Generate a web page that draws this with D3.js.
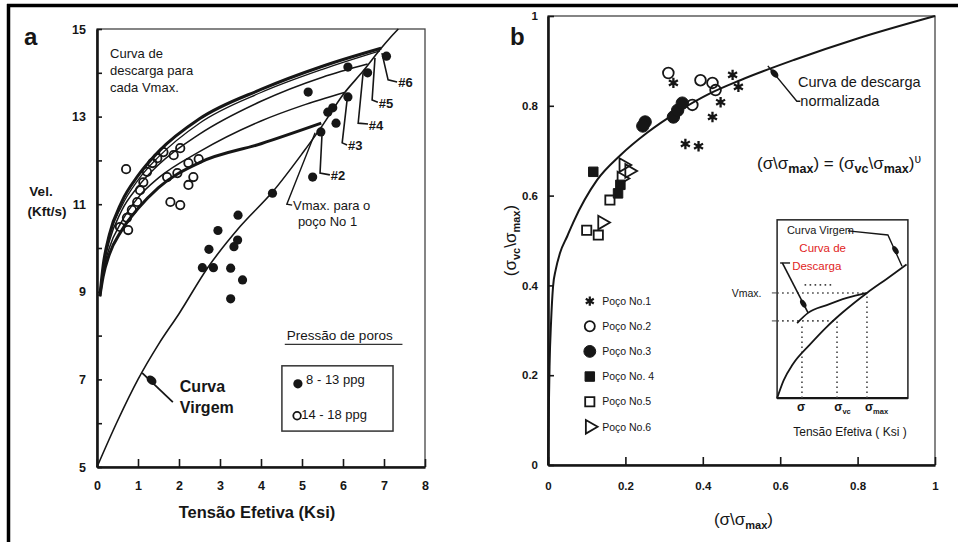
<!DOCTYPE html>
<html><head><meta charset="utf-8">
<script src="https://cdn.jsdelivr.net/npm/d3@7"></script>
<style>
body{margin:0;background:#fff}
svg{display:block}
text{font-family:"Liberation Sans",Arial,sans-serif;fill:#161616}
</style>
</head><body>
<svg id="c" width="958" height="542"></svg>
<script>
// ---------- Panel a data ----------
const aXTicks = [0,1,2,3,4,5,6,7,8];
const aYTicks = [5,6,7,8,9,10,11,12,13,14,15];
const aVirgin = [[0,5],[0.5,6.05],[1.0,7.0],[1.5,7.8],[2.0,8.5],[2.7,9.55],[3.5,10.5],[4.3,11.3],[5.0,12.15],[5.5,12.8],[6.0,13.5],[6.5,14.05],[6.93,14.56],[7.15,14.8],[7.35,15.0]];
const aCurve1 = [[0.07,8.9],[0.15,9.35],[0.3,9.85],[0.6,10.4],[1.0,10.9],[1.5,11.38],[2.5,11.95],[4.0,12.38],[5.47,12.85]];
const aCurve3 = [[0.07,8.9],[0.15,9.45],[0.3,10.0],[0.6,10.6],[1.0,11.15],[1.5,11.6],[2.5,12.2],[4.0,12.9],[5.0,13.25],[6.03,13.55]];
const aCurve4 = [[0.07,8.9],[0.15,9.5],[0.3,10.15],[0.6,10.85],[1.0,11.4],[1.5,11.9],[2.5,12.6],[4.0,13.35],[5.5,13.9],[6.6,14.2]];
const aCurve5 = [[0.07,8.9],[0.15,9.55],[0.3,10.25],[0.6,10.95],[1.0,11.55],[1.5,12.08],[2.5,12.85],[4.0,13.55],[5.5,14.08],[6.9,14.5]];
const aCurve6 = [[0.07,8.9],[0.15,9.6],[0.3,10.3],[0.6,11.05],[1.0,11.65],[1.5,12.2],[2.5,12.95],[4.0,13.62],[5.5,14.15],[6.93,14.56]];
const aFilled = [[5.15,13.56],[6.12,14.13],[6.6,14.0],[7.06,14.38],[5.75,13.2],[5.63,13.1],[5.83,12.85],[5.46,12.65],[6.12,13.45],[5.26,11.62],[4.28,11.25],[3.44,10.75],[2.95,10.4],[3.43,10.18],[3.34,10.03],[2.73,9.97],[2.57,9.55],[2.84,9.55],[3.26,9.54],[3.55,9.27],[3.26,8.84]];
const aOpen = [[0.71,11.8],[2.03,12.28],[1.87,12.12],[1.62,12.19],[1.47,12.05],[1.35,11.94],[1.22,11.74],[1.13,11.5],[1.05,11.32],[0.98,11.05],[0.85,10.87],[0.73,10.69],[0.56,10.48],[0.76,10.41],[1.71,11.62],[1.96,11.71],[2.23,11.44],[2.35,11.62],[2.23,11.94],[2.48,12.03],[1.79,11.05],[2.03,10.98]];

// ---------- Panel b data ----------
const bXTicks = [0,0.2,0.4,0.6,0.8,1];
const bYTicks = [0,0.2,0.4,0.6,0.8,1];
const bCurve = [[0,0],[0.002,0.12],[0.004,0.22],[0.008,0.32],[0.013,0.397],[0.02,0.435],[0.031,0.472],[0.05,0.51],[0.065,0.54],[0.127,0.635],[0.187,0.69],[0.256,0.74],[0.334,0.786],[0.42,0.828],[0.497,0.857],[0.635,0.902],[0.8,0.95],[1,1]];
const bPoco1 = [[0.324,0.851],[0.477,0.869],[0.492,0.842],[0.446,0.808],[0.425,0.775],[0.355,0.715],[0.389,0.71]];
const bPoco2 = [[0.311,0.873],[0.394,0.857],[0.425,0.851],[0.433,0.835],[0.373,0.802]];
const bPoco3 = [[0.251,0.764],[0.245,0.755],[0.324,0.775],[0.335,0.79],[0.347,0.806]];
const bPoco4 = [[0.117,0.653],[0.187,0.624],[0.181,0.605]];
const bPoco5 = [[0.1,0.523],[0.13,0.512],[0.16,0.59]];
const bPoco6 = [[0.14,0.54],[0.195,0.668],[0.21,0.655],[0.19,0.638]];
const bLegend = ["Poço No.1","Poço No.2","Poço No.3","Poço No. 4","Poço No.5","Poço No.6"];
// inset schematic (normalized units)
const iVirgin = [[0,0],[0.05,0.1],[0.12,0.19],[0.25,0.3],[0.38,0.4],[0.5,0.48],[0.687,0.59],[0.84,0.67],[0.99,0.75]];
const iDischarge = [[0.153,0.421],[0.237,0.478],[0.38,0.522],[0.534,0.562],[0.687,0.59]];

const ink = '#161616';
const svg = d3.select('#c');
svg.append('rect').attr('width',958).attr('height',542).attr('fill','#fff');
// outer border (top + left)
svg.append('line').attr('x1',7).attr('x2',958).attr('y1',5.5).attr('y2',5.5).attr('stroke','#000').attr('stroke-width',3.5);
svg.append('line').attr('x1',8.5).attr('x2',8.5).attr('y1',4).attr('y2',542).attr('stroke','#000').attr('stroke-width',3.5);

// ================= PANEL A =================
const xA = d3.scaleLinear().domain([0,8]).range([97,425]);
const yA = d3.scaleLinear().domain([5,15]).range([467,29]);
const A = svg.append('g');
A.append('rect').attr('x',xA(0)).attr('y',yA(15)).attr('width',xA(8)-xA(0)).attr('height',yA(5)-yA(15))
  .attr('fill','none').attr('stroke','#444').attr('stroke-width',1.3);
const gxA = A.append('g').attr('transform',`translate(0,${yA(5)})`)
  .call(d3.axisBottom(xA).tickValues(aXTicks).tickSizeInner(-8).tickSizeOuter(0).tickPadding(14).tickFormat(d3.format('d')));
const gyA = A.append('g').attr('transform',`translate(${xA(0)},0)`)
  .call(d3.axisLeft(yA).tickValues(aYTicks).tickSizeInner(-5).tickSizeOuter(0).tickPadding(11).tickFormat(d => d%2===1 ? d : ''));
[gxA,gyA].forEach(g=>{
  g.select('.domain').attr('stroke',ink).attr('stroke-width',2.6);
  g.selectAll('.tick line').attr('stroke',ink).attr('stroke-width',1.6);
  g.selectAll('.tick text').attr('font-size',12.5).attr('font-weight','bold').attr('fill',ink);
});
const lineA = d3.line().x(d=>xA(d[0])).y(d=>yA(d[1])).curve(d3.curveMonotoneX);
A.append('path').attr('d',lineA(aVirgin)).attr('fill','none').attr('stroke',ink).attr('stroke-width',1.6);
[[aCurve1,3],[aCurve3,1.5],[aCurve4,1.5],[aCurve5,1.3],[aCurve6,3]].forEach(([c,w])=>{
  A.append('path').attr('d',lineA(c)).attr('fill','none').attr('stroke',ink).attr('stroke-width',w);
});
A.selectAll('.op').data(aOpen).join('circle').attr('cx',d=>xA(d[0])).attr('cy',d=>yA(d[1])).attr('r',4.2)
  .attr('fill','none').attr('stroke',ink).attr('stroke-width',1.8);
A.selectAll('.fp').data(aFilled).join('circle').attr('cx',d=>xA(d[0])).attr('cy',d=>yA(d[1])).attr('r',4.6).attr('fill',ink);

// leaders for #labels (data coordinates)
const leadA = d3.line().x(d=>xA(d[0])).y(d=>yA(d[1]));
const tags = [
  {t:'#6', p:[[6.95,14.45],[7.10,13.84],[7.32,13.79]], at:[7.35,13.79]},
  {t:'#5', p:[[6.78,14.34],[6.71,13.38],[6.85,13.33]], at:[6.87,13.3]},
  {t:'#4', p:[[6.49,14.0],[6.37,12.85],[6.61,12.83]], at:[6.63,12.8]},
  {t:'#3', p:[[6.10,13.38],[5.98,12.4],[6.10,12.35]], at:[6.12,12.33]},
  {t:'#2', p:[[5.49,12.63],[5.44,11.71],[5.68,11.67]], at:[5.7,11.65]}
];
tags.forEach(o=>{
  A.append('path').attr('d',leadA(o.p)).attr('fill','none').attr('stroke',ink).attr('stroke-width',1.6);
  A.append('text').attr('x',xA(o.at[0])).attr('y',yA(o.at[1])).attr('dy','0.35em')
    .attr('font-size',13).attr('font-weight','bold').text(o.t);
});
A.append('path').attr('d',leadA([[5.32,12.63],[4.63,11.0],[4.76,10.98]])).attr('fill','none').attr('stroke',ink).attr('stroke-width',1.4);
A.append('text').attr('x',xA(4.78)).attr('y',yA(10.98)).attr('dy','0.35em').attr('font-size',13).text('Vmax. para o');
A.append('text').attr('x',xA(4.9)).attr('y',yA(10.6)).attr('dy','0.35em').attr('font-size',13).text('poço No 1');

['Curva de','descarga para','cada Vmax.'].forEach((s,i)=>{
  A.append('text').attr('x',xA(0.32)).attr('y',yA(14.45-0.39*i)).attr('dy','0.35em').attr('font-size',13).text(s);
});
// Curva Virgem label
A.append('path').attr('d',leadA([[1.85,6.48],[1.10,7.15]])).attr('stroke',ink).attr('stroke-width',1.8).attr('fill','none');
A.append('ellipse').attr('cx',xA(1.33)).attr('cy',yA(6.98)).attr('rx',5.5).attr('ry',4)
  .attr('transform',`rotate(40,${xA(1.33)},${yA(6.98)})`).attr('fill',ink);
A.append('text').attr('x',xA(2.02)).attr('y',yA(6.83)).attr('dy','0.35em').attr('font-size',16).attr('font-weight','bold').text('Curva');
A.append('text').attr('x',xA(2.02)).attr('y',yA(6.37)).attr('dy','0.35em').attr('font-size',16).attr('font-weight','bold').text('Virgem');
// legend
A.append('text').attr('x',xA(4.63)).attr('y',yA(8.01)).attr('dy','0.35em').attr('font-size',13.5).attr('fill','#333').text('Pressão de poros');
A.append('line').attr('x1',xA(4.58)).attr('x2',xA(7.45)).attr('y1',yA(7.8)).attr('y2',yA(7.8)).attr('stroke','#333').attr('stroke-width',1.3);
A.append('rect').attr('x',xA(4.51)).attr('y',yA(7.31)).attr('width',xA(7.22)-xA(4.51)).attr('height',yA(5.82)-yA(7.31))
  .attr('fill','none').attr('stroke','#333').attr('stroke-width',1.5);
A.append('circle').attr('cx',xA(4.9)).attr('cy',yA(6.9)).attr('r',4.6).attr('fill',ink);
A.append('text').attr('x',xA(5.1)).attr('y',yA(7.0)).attr('dy','0.35em').attr('font-size',13).text('8 - 13 ppg');
A.append('circle').attr('cx',xA(4.88)).attr('cy',yA(6.17)).attr('r',3.8).attr('fill','none').attr('stroke',ink).attr('stroke-width',1.8);
A.append('text').attr('x',xA(4.98)).attr('y',yA(6.21)).attr('dy','0.35em').attr('font-size',13).text('14 - 18 ppg');
// axis titles
A.append('text').attr('x',(xA(0)+xA(8))/2 - 4).attr('y',yA(5)+51).attr('text-anchor','middle')
  .attr('font-size',16.5).attr('font-weight','bold').text('Tensão Efetiva (Ksi)');
A.append('text').attr('x',xA(0)-56).attr('y',yA(11)-8).attr('text-anchor','middle').attr('font-size',13.5).attr('font-weight','bold').text('Vel.');
A.append('text').attr('x',xA(0)-50).attr('y',yA(11)+12).attr('text-anchor','middle').attr('font-size',13.5).attr('font-weight','bold').text('(Kft/s)');
svg.append('text').attr('x',24).attr('y',45).attr('font-family','"Liberation Serif",serif').attr('font-size',24).attr('font-weight','bold').text('a');

// ================= PANEL B =================
const xB = d3.scaleLinear().domain([0,1]).range([548,935]);
const yB = d3.scaleLinear().domain([0,1]).range([465,16]);
const B = svg.append('g');
B.append('rect').attr('x',xB(0)).attr('y',yB(1)).attr('width',xB(1)-xB(0)).attr('height',yB(0)-yB(1))
  .attr('fill','none').attr('stroke','#444').attr('stroke-width',1.3);
const gxB = B.append('g').attr('transform',`translate(0,${yB(0)})`)
  .call(d3.axisBottom(xB).tickValues(bXTicks).tickSizeInner(-8).tickSizeOuter(0).tickPadding(17).tickFormat(d => d===0||d===1 ? d : d3.format('.1f')(d)));
const gyB = B.append('g').attr('transform',`translate(${xB(0)},0)`)
  .call(d3.axisLeft(yB).tickValues(bYTicks).tickSizeInner(-6).tickSizeOuter(0).tickPadding(10).tickFormat(d => d===0||d===1 ? d : d3.format('.1f')(d)));
[gxB,gyB].forEach(g=>{
  g.select('.domain').attr('stroke',ink).attr('stroke-width',2.6);
  g.selectAll('.tick line').attr('stroke',ink).attr('stroke-width',1.6);
  g.selectAll('.tick text').attr('font-size',11.5).attr('font-weight','bold').attr('fill','#2a2a2a');
});
const lineB = d3.line().x(d=>xB(d[0])).y(d=>yB(d[1])).curve(d3.curveMonotoneX);
B.append('path').attr('d',lineB(bCurve)).attr('fill','none').attr('stroke',ink).attr('stroke-width',2);

const sym = (type,size)=>d3.symbol().type(type).size(size)();
const drawSet = (data, type, size, filled, rot, sw) => {
  B.selectAll(null).data(data).join('path')
    .attr('d', sym(type,size))
    .attr('transform', d=>`translate(${xB(d[0])},${yB(d[1])}) rotate(${rot||0})`)
    .attr('fill', filled ? ink : 'none')
    .attr('stroke', ink).attr('stroke-width', sw || (filled ? 1 : 1.8));
};
drawSet(bPoco1, d3.symbolAsterisk, 75, false, 0, 2.3);
drawSet(bPoco2, d3.symbolCircle, 90, false);
drawSet(bPoco3, d3.symbolCircle, 120, true);
drawSet(bPoco4, d3.symbolSquare, 90, true);
drawSet(bPoco5, d3.symbolSquare, 85, false);
drawSet(bPoco6, d3.symbolTriangle, 80, false, 90);

// legend
const legTypes = [[d3.symbolAsterisk,60,false,0,2.2],[d3.symbolCircle,80,false,0,1.8],[d3.symbolCircle,110,true,0,1],[d3.symbolSquare,90,true,0,1],[d3.symbolSquare,85,false,0,1.8],[d3.symbolTriangle,80,false,90,1.8]];
bLegend.forEach((s,i)=>{
  const yv = 0.365 - 0.056*i;
  const [t,sz,f,r,sw] = legTypes[i];
  B.append('path').attr('d',sym(t,sz)).attr('transform',`translate(${xB(0.108)},${yB(yv)}) rotate(${r})`)
    .attr('fill',f?ink:'none').attr('stroke',ink).attr('stroke-width',sw);
  B.append('text').attr('x',xB(0.14)).attr('y',yB(yv)).attr('dy','0.35em').attr('font-size',10.5).attr('fill','#222').text(s);
});

// annotation: Curva de descarga normalizada
const leadB = d3.line().x(d=>xB(d[0])).y(d=>yB(d[1]));
B.append('path').attr('d',leadB([[0.568,0.889],[0.643,0.81],[0.652,0.81]])).attr('fill','none').attr('stroke',ink).attr('stroke-width',1.4);
B.append('ellipse').attr('cx',xB(0.585)).attr('cy',yB(0.872)).attr('rx',5).attr('ry',3)
  .attr('transform',`rotate(48,${xB(0.585)},${yB(0.872)})`).attr('fill',ink);
B.append('text').attr('x',xB(0.646)).attr('y',yB(0.853)).attr('dy','0.35em').attr('font-size',14.5).text('Curva de descarga');
B.append('text').attr('x',xB(0.652)).attr('y',yB(0.81)).attr('dy','0.35em').attr('font-size',14.5).text('normalizada');

// equation
const eq = B.append('text').attr('x',xB(0.54)).attr('y',yB(0.673)).attr('dy','0.35em').attr('font-size',17);
eq.append('tspan').text('(σ\\σ');
eq.append('tspan').attr('font-size',12.5).attr('font-weight','bold').attr('dy',4).text('max');
eq.append('tspan').attr('dy',-4).text(')  =  (σ');
eq.append('tspan').attr('font-size',12.5).attr('font-weight','bold').attr('dy',4).text('vc');
eq.append('tspan').attr('dy',-4).text('\\σ');
eq.append('tspan').attr('font-size',12.5).attr('font-weight','bold').attr('dy',4).text('max');
eq.append('tspan').attr('dy',-4).text(')');
eq.append('tspan').attr('font-size',12).attr('dy',-6).text('υ');

// axis titles
const xt = B.append('text').attr('x',(xB(0)+xB(1))/2 + 2).attr('y',yB(0)+60).attr('text-anchor','middle').attr('font-size',17);
xt.append('tspan').text('(σ\\σ');
xt.append('tspan').attr('font-size',11).attr('font-weight','bold').attr('dy',4).text('max');
xt.append('tspan').attr('dy',-4).text(')');
const yt = B.append('text').attr('transform',`translate(${xB(0)-32},${yB(0.5)}) rotate(-90)`).attr('text-anchor','middle').attr('font-size',17);
yt.append('tspan').text('(σ');
yt.append('tspan').attr('font-size',11).attr('font-weight','bold').attr('dy',4).text('vc');
yt.append('tspan').attr('dy',-4).text('\\σ');
yt.append('tspan').attr('font-size',11).attr('font-weight','bold').attr('dy',4).text('max');
yt.append('tspan').attr('dy',-4).text(')');
svg.append('text').attr('x',510).attr('y',45).attr('font-family','"Liberation Serif",serif').attr('font-size',24).attr('font-weight','bold').text('b');

// ---- inset schematic ----
const xI = d3.scaleLinear().domain([0,1]).range([xB(0.592),xB(0.930)]);
const yI = d3.scaleLinear().domain([0,1]).range([yB(0.149),yB(0.546)]);
const I = B.append('g');
I.append('rect').attr('x',xI(0)).attr('y',yI(1)).attr('width',xI(1)-xI(0)).attr('height',yI(0)-yI(1))
  .attr('fill','#fff').attr('stroke','#222').attr('stroke-width',1.5);
I.append('line').attr('x1',xI(0)).attr('x2',xI(1)).attr('y1',yI(0)).attr('y2',yI(0)).attr('stroke',ink).attr('stroke-width',2.4);
const lineI = d3.line().x(d=>xI(d[0])).y(d=>yI(d[1]));
const curveI = d3.line().x(d=>xI(d[0])).y(d=>yI(d[1])).curve(d3.curveMonotoneX);
const dots = (pts)=>I.append('path').attr('d',lineI(pts)).attr('fill','none').attr('stroke','#444').attr('stroke-width',1.6).attr('stroke-dasharray','1.6,3.4');
dots([[0,0.59],[0.687,0.59]]);
dots([[0,0.433],[0.443,0.433]]);
dots([[0.21,0.635],[0.43,0.635]]);
dots([[0.19,0],[0.19,0.42]]);
dots([[0.458,0],[0.458,0.433]]);
dots([[0.687,0],[0.687,0.59]]);
I.append('path').attr('d',curveI(iVirgin)).attr('fill','none').attr('stroke',ink).attr('stroke-width',1.8);
I.append('path').attr('d',curveI(iDischarge)).attr('fill','none').attr('stroke',ink).attr('stroke-width',1.8);
[0.59,0.433].forEach(v=>I.append('line').attr('x1',xI(-0.04)).attr('x2',xI(0)).attr('y1',yI(v)).attr('y2',yI(v)).attr('stroke','#444').attr('stroke-width',1));
// leaders in inset
I.append('path').attr('d',lineI([[0.023,0.758],[0.099,0.758]])).attr('stroke',ink).attr('stroke-width',1.4);
I.append('path').attr('d',lineI([[0.04,0.758],[0.237,0.478]])).attr('stroke',ink).attr('stroke-width',1.6).attr('fill','none');
I.append('ellipse').attr('cx',xI(0.2)).attr('cy',yI(0.53)).attr('rx',4.5).attr('ry',2.5)
  .attr('transform',`rotate(58,${xI(0.2)},${yI(0.53)})`).attr('fill',ink);
I.append('path').attr('d',lineI([[0.542,0.938],[0.847,0.915],[0.955,0.74]])).attr('stroke',ink).attr('stroke-width',1.4).attr('fill','none');
I.append('ellipse').attr('cx',xI(0.905)).attr('cy',yI(0.83)).attr('rx',4.5).attr('ry',2.5)
  .attr('transform',`rotate(58,${xI(0.905)},${yI(0.83)})`).attr('fill',ink);
I.append('text').attr('x',xI(0.075)).attr('y',yI(0.944)).attr('dy','0.35em').attr('font-size',11).text('Curva Virgem');
I.append('text').attr('x',xI(0.17)).attr('y',yI(0.845)).attr('dy','0.35em').attr('font-size',11.5).style('fill','#e11d1d').text('Curva de');
I.append('text').attr('x',xI(0.115)).attr('y',yI(0.742)).attr('dy','0.35em').attr('font-size',11.5).style('fill','#e11d1d').text('Descarga');
I.append('text').attr('x',xI(-0.12)).attr('y',yI(0.59)).attr('dy','0.35em').attr('text-anchor','end').attr('font-size',10.5).text('Vmax.');
const subLab = (u, main, sub)=>{
  const t = I.append('text').attr('x',xI(u)).attr('y',yI(-0.05)).attr('dy','0.35em').attr('text-anchor','middle').attr('font-size',12).attr('font-weight','bold');
  t.append('tspan').text(main);
  if(sub){ t.append('tspan').attr('font-size',7.5).attr('dy',3).text(sub); }
};
subLab(0.183,'σ');
subLab(0.5,'σ','vc');
subLab(0.76,'σ','max');
I.append('text').attr('x',xI(0.557)).attr('y',yI(-0.19)).attr('dy','0.35em').attr('text-anchor','middle').attr('font-size',12).text('Tensão Efetiva ( Ksi )');
</script>
</body></html>
